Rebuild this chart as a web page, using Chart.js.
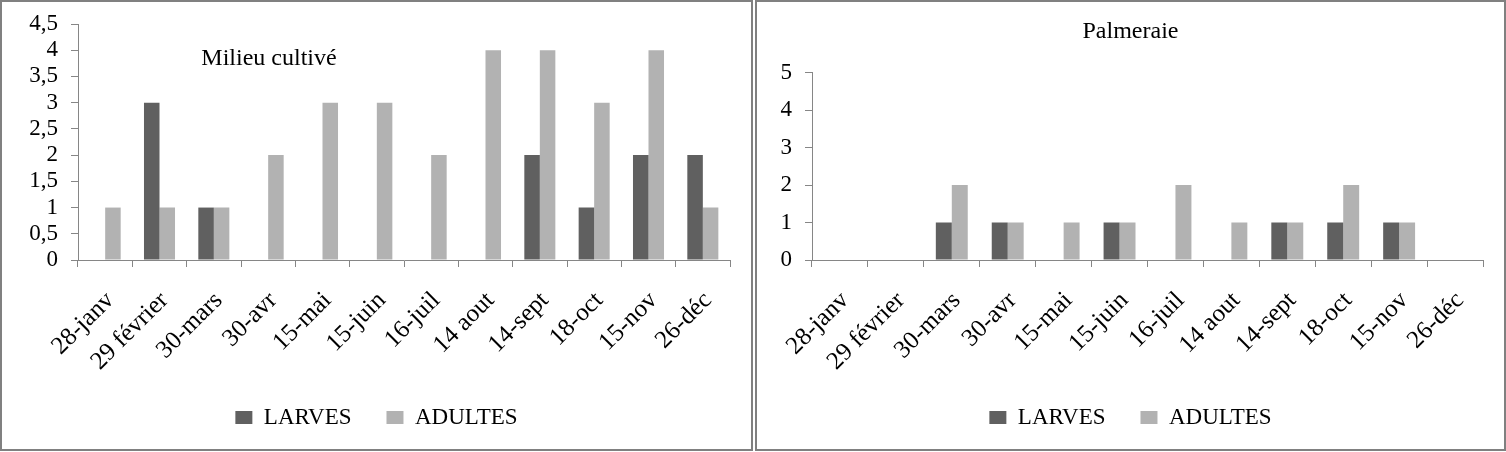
<!DOCTYPE html>
<html>
<head>
<meta charset="utf-8">
<script src="https://cdn.jsdelivr.net/npm/chart.js@4/dist/chart.umd.min.js"></script>
<style>
  body { margin: 0; background: #fff; }
  .cadre { position: absolute; top: 0; height: 451px; border: 2px solid #808080; box-sizing: border-box; background: #fff; }
  #cadre1 { left: 0; width: 753px; }
  #cadre2 { left: 755px; width: 751px; }
  canvas { display: block; }
</style>
</head>
<body>
<div class="cadre" id="cadre1"><canvas id="milieu" width="749" height="447"></canvas></div>
<div class="cadre" id="cadre2"><canvas id="palmeraie" width="747" height="447"></canvas></div>
<script>
// dates des relevés
var dates = ['28-janv', '29 février', '30-mars', '30-avr', '15-mai', '15-juin', '16-juil', '14 aout', '14-sept', '18-oct', '15-nov', '26-déc'];

// Milieu cultivé
var larvesMilieu  = [0, 3, 1, 0, 0, 0, 0, 0, 2, 1, 2, 2];
var adultesMilieu = [1, 1, 1, 2, 3, 3, 2, 4, 4, 3, 4, 1];

// Palmeraie
var larvesPalm  = [0, 0, 1, 1, 0, 1, 0, 0, 1, 1, 1, 0];
var adultesPalm = [0, 0, 2, 1, 1, 1, 2, 1, 1, 2, 1, 0];

var police = "'Liberation Serif', 'Times New Roman', serif";
var gris = '#868686';

// titre dessiné à l'intérieur de la zone du graphique (milieu cultivé)
var titreInterne = {
  id: 'titreInterne',
  afterDraw: function (chart, args, opts) {
    if (!opts.texte) return;
    var ctx = chart.ctx;
    ctx.save();
    ctx.font = opts.taille + 'px ' + police;
    ctx.fillStyle = '#000';
    ctx.textAlign = 'center';
    ctx.textBaseline = 'middle';
    ctx.fillText(opts.texte, chart.chartArea.left + opts.dx, chart.chartArea.top + opts.dy);
    ctx.restore();
  }
};

function construire(id, larves, adultes, yMax, yPas, largeurAxeY, haut, titre, interne) {
  var ctx = document.getElementById(id).getContext('2d');
  return new Chart(ctx, {
    type: 'bar',
    data: {
      labels: dates,
      datasets: [{
        label: 'LARVES',
        data: larves,
        backgroundColor: '#606060',
        categoryPercentage: 0.571,
        barPercentage: 1.0
      }, {
        label: 'ADULTES',
        data: adultes,
        backgroundColor: '#b2b2b2',
        categoryPercentage: 0.571,
        barPercentage: 1.0
      }]
    },
    plugins: [titreInterne],
    options: {
      responsive: false,
      animation: false,
      layout: { padding: { left: 0, right: 0, top: haut, bottom: 10 } },
      plugins: {
        tooltip: { enabled: false },
        titreInterne: interne,
        title: titre,
        legend: {
          position: 'bottom',
          labels: {
            color: '#000',
            font: { family: police, size: 23 },
            boxWidth: 17,
            boxHeight: 13,
            padding: 35
          }
        }
      },
      scales: {
        x: {
          afterFit: function (s) { s.height = 111; },
          border: { color: gris, width: 1 },
          grid: { display: true, offset: true, drawOnChartArea: false, drawTicks: true, tickLength: 7, color: gris },
          ticks: {
            color: '#000',
            font: { family: police, size: 25 },
            minRotation: 45,
            maxRotation: 45,
            autoSkip: false,
            labelOffset: 5,
            padding: 19
          }
        },
        y: {
          min: 0,
          max: yMax,
          // largeur fixe, et pas de marge haute/basse ajoutée pour les étiquettes
          afterFit: function (s) {
            s.width = largeurAxeY;
            s.paddingTop = 0;
            s.paddingBottom = 0;
          },
          border: { color: gris, width: 1 },
          grid: { display: true, drawOnChartArea: false, drawTicks: true, tickLength: 7, color: gris },
          ticks: {
            stepSize: yPas,
            autoSkip: false,
            color: '#000',
            padding: 13,
            font: { family: police, size: 23 },
            callback: function (v) { return String(v).replace('.', ','); }
          }
        },
        // marge à droite du graphique (axe vide)
        marge: {
          type: 'linear',
          axis: 'y',
          position: 'right',
          afterFit: function (s) { s.width = 21; },
          border: { display: false },
          grid: { display: false },
          ticks: { display: false }
        }
      }
    }
  });
}

construire('milieu', larvesMilieu, adultesMilieu, 4.5, 0.5, 76, 22,
  { display: false },
  { texte: 'Milieu cultivé', taille: 24, dx: 191, dy: 35 });

construire('palmeraie', larvesPalm, adultesPalm, 5, 1, 55, 0,
  { display: true, text: 'Palmeraie', color: '#000', font: { family: police, size: 24, weight: 'normal' }, padding: { top: 15, bottom: 27 } },
  { texte: '' });
</script>
</body>
</html>
